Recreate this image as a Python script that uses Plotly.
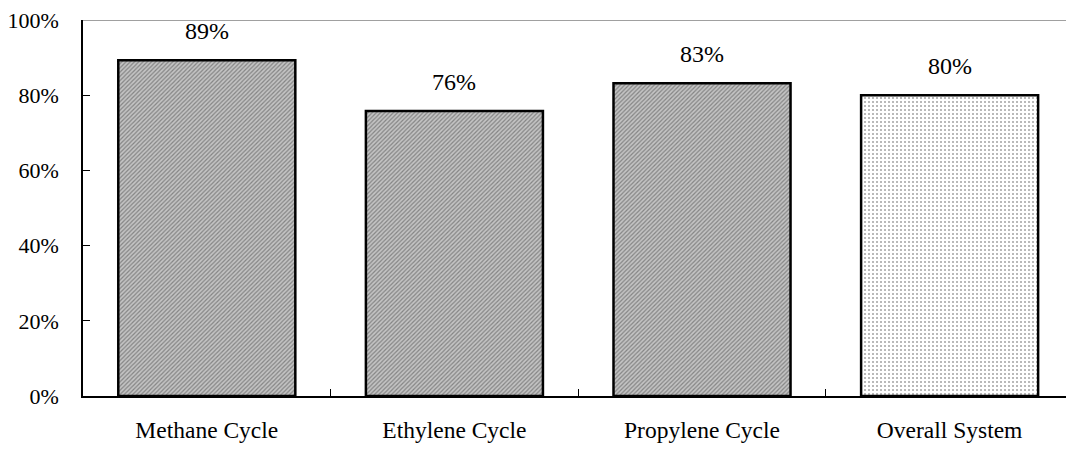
import plotly.graph_objects as go

categories = ["Methane Cycle", "Ethylene Cycle", "Propylene Cycle", "Overall System"]
efficiency = [0.893, 0.758, 0.832, 0.800]

fill_bg = ["#c4c4c4", "#c4c4c4", "#c4c4c4", "#ffffff"]
fill_fg = ["#2a2a2a", "#2a2a2a", "#2a2a2a", "#c0c0c0"]
pattern_shapes = ["/", "/", "/", "."]
pattern_sizes = [3, 3, 3, 4]
pattern_solidity = [0.4, 0.4, 0.4, 0.2]

SERIF = "Times New Roman, Liberation Serif, serif"

fig = go.Figure(
    go.Bar(
        x=categories,
        y=efficiency,
        width=0.715,
        marker=dict(
            color=fill_bg,
            line=dict(color="black", width=2.5),
            pattern=dict(shape=pattern_shapes, fgcolor=fill_fg, bgcolor=fill_bg,
                         size=pattern_sizes, solidity=pattern_solidity,
                         fillmode="overlay"),
        ),
        cliponaxis=False,
    )
)

# value labels floating above each bar
for cat, v in zip(categories, efficiency):
    fig.add_annotation(x=cat, y=v, text=f"{v:.0%}", showarrow=False,
                       yanchor="bottom", yshift=14,
                       font=dict(family=SERIF, size=24, color="black"))

fig.update_layout(
    width=1066, height=449,
    margin=dict(l=83, r=0, t=20, b=53),
    paper_bgcolor="white", plot_bgcolor="white",
    showlegend=False,
    font=dict(family=SERIF, color="black"),
)

fig.update_xaxes(
    range=[-0.5, 3.47],
    showline=True, linecolor="black", linewidth=1.5,
    ticks="inside", ticklen=7, tickcolor="black", tickwidth=1,
    tickson="boundaries",
    tickfont=dict(family=SERIF, size=23.5, color="black"),
    ticklabelstandoff=12,
    showgrid=False,
)

fig.update_yaxes(
    range=[0, 1], tickvals=[0, 0.2, 0.4, 0.6, 0.8, 1.0], tickformat=".0%",
    showline=True, linecolor="black", linewidth=1.5,
    ticks="inside", ticklen=7, tickcolor="black", tickwidth=1,
    tickfont=dict(family=SERIF, size=22, color="black"),
    ticklabelstandoff=18,
    showgrid=False, zeroline=False,
)

# thin grey border along the top of the plotting area
fig.add_shape(type="line", xref="paper", yref="y", x0=0, x1=1, y0=1, y1=1,
              line=dict(color="#808080", width=1.5))

fig.write_html("out.html")
